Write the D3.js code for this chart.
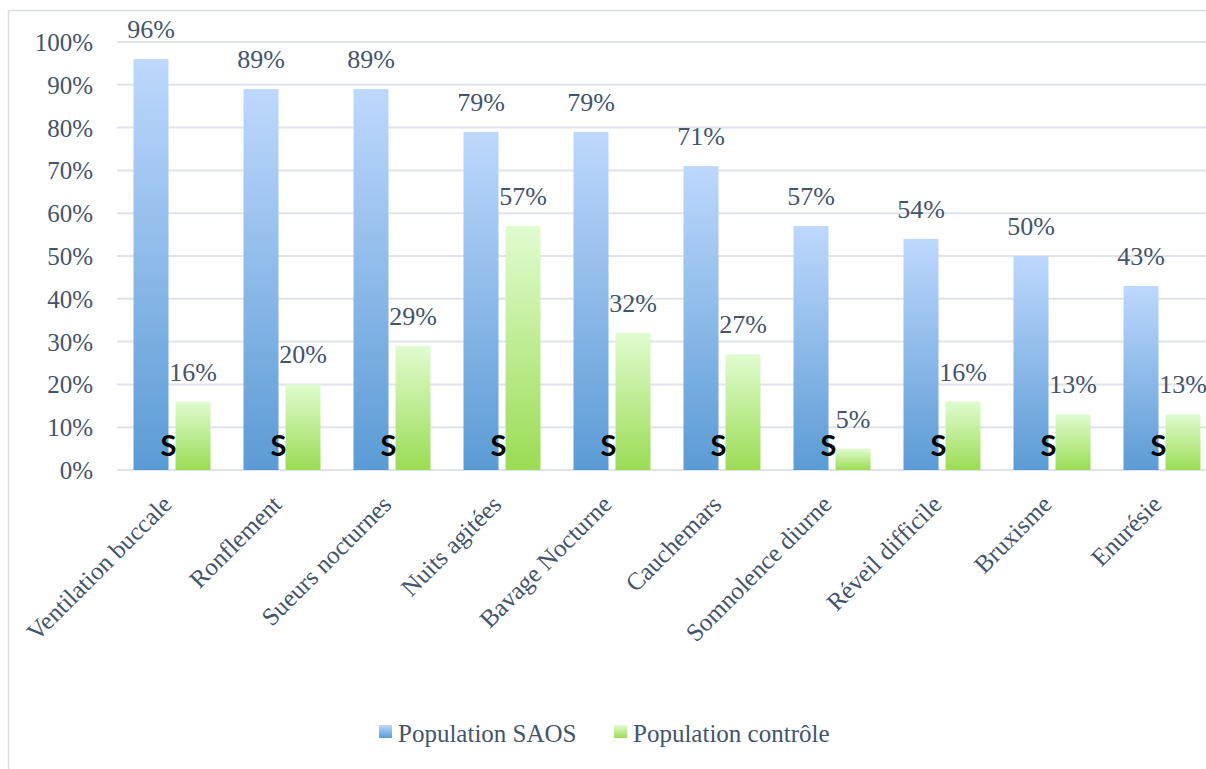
<!DOCTYPE html>
<html><head><meta charset="utf-8">
<script src="https://cdn.jsdelivr.net/npm/d3@7"></script>
<style>body{margin:0;background:#fff}svg{display:block}
.serif{font-family:"Liberation Serif","Times New Roman",Tinos,"DejaVu Serif",serif}
</style>
</head><body>
<script>
const categories = ["Ventilation buccale","Ronflement","Sueurs nocturnes","Nuits agitées","Bavage Nocturne","Cauchemars","Somnolence diurne","Réveil difficile","Bruxisme","Enurésie"];
const saos = [96,89,89,79,79,71,57,54,50,43];
const controle = [16,20,29,57,32,27,5,16,13,13];
const significance = ["S","S","S","S","S","S","S","S","S","S"];
const yTicks = [0,10,20,30,40,50,60,70,80,90,100];
const seriesNames = ["Population SAOS","Population contrôle"];

(function(){
const W = 1206, H = 769;
const svg = d3.select("body").append("svg").attr("width", W).attr("height", H);
const defs = svg.append("defs");
function grad(id, c1, c2){
  const g = defs.append("linearGradient").attr("id", id).attr("x1",0).attr("y1",0).attr("x2",0).attr("y2",1);
  g.append("stop").attr("offset","0%").attr("stop-color", c1);
  g.append("stop").attr("offset","100%").attr("stop-color", c2);
}
grad("gBlue", "#BED8FD", "#5B9BD5");
grad("gGreen", "#E0FCD0", "#9BDC55");

const txtColor = "#44546A";

svg.append("rect").attr("x",8.5).attr("y",10.5).attr("width",W+20).attr("height",H+20)
  .attr("fill","none").attr("stroke","#DADEE4").attr("stroke-width",1.5);

const pl = 117, pr = 1217, pt = 42, pb = 470;
const x = d3.scaleBand().domain(categories).range([pl, pr]);
const y = d3.scaleLinear().domain([0,100]).range([pb, pt]);

const bw = 35, gap = 7;
const off = (x.bandwidth() - (2*bw + gap)) / 2;

svg.append("g").selectAll("line").data(yTicks).join("line")
  .attr("x1", pl).attr("x2", W).attr("y1", d=>y(d)).attr("y2", d=>y(d))
  .attr("stroke","#E0E4EA").attr("stroke-width",2);

const yAxis = d3.axisLeft(y).tickValues(yTicks).tickFormat(d=>d+"%").tickSize(0).tickPadding(0);
const ya = svg.append("g").attr("transform", `translate(${pl-24},0)`).call(yAxis);
ya.attr("font-family", null).attr("font-size", null);
ya.select(".domain").remove();
ya.selectAll("text").attr("class","serif").style("font-size","25px").attr("fill", txtColor).attr("dy","0.34em");

const g = svg.append("g");
g.selectAll(".b1").data(categories).join("rect").attr("class","b1")
  .attr("x", d=>x(d)+off).attr("width", bw)
  .attr("y", (d,i)=>y(saos[i])).attr("height", (d,i)=>y(0)-y(saos[i]))
  .attr("fill","url(#gBlue)");
g.selectAll(".b2").data(categories).join("rect").attr("class","b2")
  .attr("x", d=>x(d)+off+bw+gap).attr("width", bw)
  .attr("y", (d,i)=>y(controle[i])).attr("height", (d,i)=>y(0)-y(controle[i]))
  .attr("fill","url(#gGreen)");

const lab = svg.append("g").attr("class","serif").style("font-size","26px").attr("fill", txtColor).attr("text-anchor","middle");
lab.selectAll(".l1").data(categories).join("text").attr("class","l1")
  .attr("x", d=>x(d)+off+bw/2).attr("y", (d,i)=>y(saos[i])-21).text((d,i)=>saos[i]+"%");
lab.selectAll(".l2").data(categories).join("text").attr("class","l2")
  .attr("x", d=>x(d)+off+bw+gap+bw/2).attr("y", (d,i)=>y(controle[i])-21).text((d,i)=>controle[i]+"%");

svg.append("g").selectAll("text").data(categories).join("text")
  .attr("x", d=>x(d)+off+bw).attr("y", 456)
  .attr("text-anchor","middle").style("font-family","Lato,'Open Sans',sans-serif").style("font-weight","bold")
  .style("font-size", "29px").attr("fill","#000").text((d,i)=>significance[i]);

const xAxis = d3.axisBottom(x).tickSize(0).tickPadding(0);
const xa = svg.append("g").attr("transform", `translate(0,${pb})`).call(xAxis);
xa.attr("font-family", null).attr("font-size", null);
xa.select(".domain").remove();
xa.selectAll("text").attr("class","serif").style("font-size","25px").attr("fill", txtColor)
  .attr("text-anchor","end").attr("dy",null).attr("y",null)
  .attr("transform","translate(1,36) rotate(-45)");

const leg = svg.append("g");
const lx = [379, 614];
const lg = ["url(#gBlue)","url(#gGreen)"];
seriesNames.forEach((s,i)=>{
  leg.append("rect").attr("x", lx[i]).attr("y", 725).attr("width",13).attr("height",13).attr("fill", lg[i]);
  leg.append("text").attr("class","serif").attr("x", lx[i]+19).attr("y", 742).style("font-size","25px")
    .attr("fill", txtColor).text(s);
});
})();
</script>
</body></html>
